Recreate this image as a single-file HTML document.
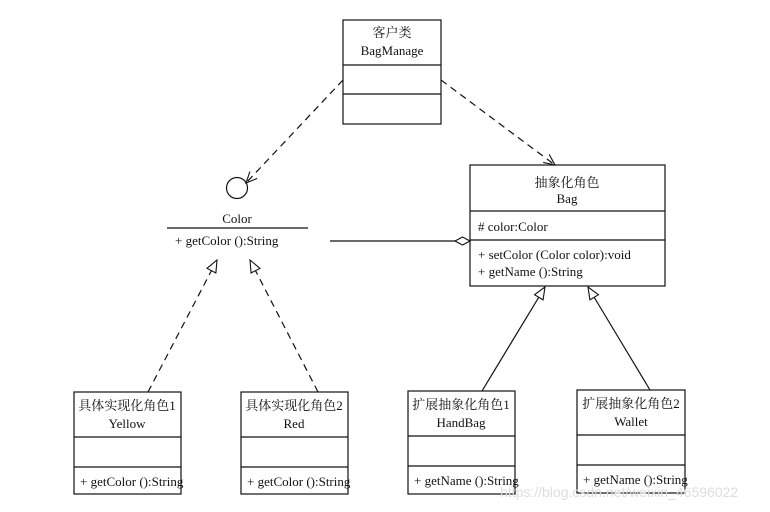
<!DOCTYPE html>
<html><head><meta charset="utf-8"><style>
html,body{margin:0;padding:0;background:#fff;}
svg{display:block;}
text{font-family:"Liberation Serif","Noto Serif CJK SC",serif;font-size:13px;fill:#111;}
</style></head><body>
<svg width="770" height="512" viewBox="0 0 770 512" xmlns="http://www.w3.org/2000/svg">
<defs>
<marker id="tri" markerWidth="14" markerHeight="14" refX="13" refY="6" orient="auto" markerUnits="userSpaceOnUse">
<path d="M1,1 L13,6 L1,11 Z" fill="#fff" stroke="#111" stroke-width="1.1"/></marker>
<marker id="open" markerWidth="14" markerHeight="14" refX="12" refY="6" orient="auto" markerUnits="userSpaceOnUse">
<path d="M1,1 L12,6 L1,11" fill="none" stroke="#111" stroke-width="1.1"/></marker>
<marker id="dia" markerWidth="18" markerHeight="12" refX="16" refY="6" orient="auto" markerUnits="userSpaceOnUse">
<path d="M1,6 L8.5,2 L16,6 L8.5,10 Z" fill="#fff" stroke="#111" stroke-width="1.1"/></marker>
</defs>
<g fill="none" stroke="#111" stroke-width="1.2">
<!-- BagManage -->
<rect x="343" y="20" width="98" height="104"/>
<line x1="343" y1="65" x2="441" y2="65"/><line x1="343" y1="94" x2="441" y2="94"/>
<!-- Color interface -->
<circle cx="237" cy="188" r="10.5"/>
<line x1="167" y1="228" x2="308" y2="228"/>
<!-- Bag -->
<rect x="470" y="165" width="195" height="121"/>
<line x1="470" y1="211" x2="665" y2="211"/><line x1="470" y1="240" x2="665" y2="240"/>
<!-- bottom boxes -->
<rect x="74" y="392" width="107" height="102"/>
<line x1="74" y1="437" x2="181" y2="437"/><line x1="74" y1="467" x2="181" y2="467"/>
<rect x="241" y="392" width="107" height="102"/>
<line x1="241" y1="437" x2="348" y2="437"/><line x1="241" y1="467" x2="348" y2="467"/>
<rect x="408" y="391" width="107" height="103"/>
<line x1="408" y1="436" x2="515" y2="436"/><line x1="408" y1="466" x2="515" y2="466"/>
<rect x="577" y="390" width="108" height="103"/>
<line x1="577" y1="435" x2="685" y2="435"/><line x1="577" y1="465" x2="685" y2="465"/>
<!-- connectors -->
<line x1="343" y1="80" x2="246" y2="183" stroke-dasharray="7,5" marker-end="url(#open)"/>
<line x1="441" y1="80" x2="555" y2="165" stroke-dasharray="7,5" marker-end="url(#open)"/>
<line x1="330" y1="241" x2="470" y2="241" marker-end="url(#dia)"/>
<line x1="148" y1="392" x2="217" y2="260" stroke-dasharray="7,5" marker-end="url(#tri)"/>
<line x1="318" y1="392" x2="250" y2="260" stroke-dasharray="7,5" marker-end="url(#tri)"/>
<line x1="482" y1="391" x2="545" y2="287" marker-end="url(#tri)"/>
<line x1="650" y1="390" x2="588" y2="287" marker-end="url(#tri)"/>
</g>
<g text-anchor="middle">
<text x="392" y="37">客户类</text><text x="392" y="55">BagManage</text>
<text x="237" y="223">Color</text>
<text x="567" y="187">抽象化角色</text><text x="567" y="203">Bag</text>
<text x="127" y="410">具体实现化角色1</text><text x="127" y="428">Yellow</text>
<text x="294" y="410">具体实现化角色2</text><text x="294" y="428">Red</text>
<text x="461" y="409">扩展抽象化角色1</text><text x="461" y="427">HandBag</text>
<text x="631" y="408">扩展抽象化角色2</text><text x="631" y="426">Wallet</text>
</g>
<text x="175" y="245">+ getColor ():String</text>
<text x="478" y="231"># color:Color</text>
<text x="478" y="259">+ setColor (Color color):void</text>
<text x="478" y="276">+ getName ():String</text>
<text x="80" y="486">+ getColor ():String</text>
<text x="247" y="486">+ getColor ():String</text>
<text x="414" y="485">+ getName ():String</text>
<text x="583" y="484">+ getName ():String</text>
<text x="500" y="497" style="font-family:'Liberation Sans',sans-serif;font-size:14px;fill:#ddd;">https://blog.csdn.net/weixin_46596022</text>
</svg>
</body></html>
